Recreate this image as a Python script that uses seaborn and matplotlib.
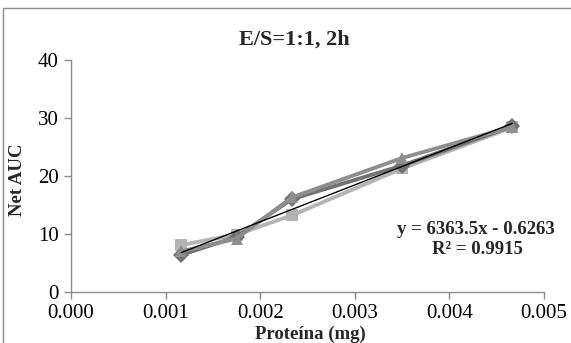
import matplotlib
matplotlib.use("Agg")
import matplotlib.pyplot as plt
import seaborn as sns
import numpy as np
import pandas as pd
from matplotlib.patches import Rectangle

# Protein amount (mg) and net AUC replicates
protein_mg = [0.001167, 0.00175, 0.002333, 0.0035, 0.004667]
rep_diamond = [6.4, 9.5, 16.0, 21.8, 28.6]
rep_square = [8.1, 9.9, 13.2, 21.3, 28.4]
rep_triangle = [7.0, 9.2, 16.3, 23.1, 28.5]

# Linear trendline reported on the chart
slope = 6363.5
intercept = -0.6263
r_squared = 0.9915

title = "E/S=1:1, 2h"
x_label = "Proteína (mg)"
y_label = "Net AUC"
x_ticks = [0.000, 0.001, 0.002, 0.003, 0.004, 0.005]
y_ticks = [0, 10, 20, 30, 40]

sns.set_theme(style="white")
plt.rcParams["font.family"] = ["Liberation Serif", "DejaVu Serif"]

W, H = 571, 343
fig = plt.figure(figsize=(W / 100, H / 100), dpi=100)
ax = fig.add_axes([71 / W, 1 - 292 / H, (544 - 71) / W, (292 - 60) / H])

# Chart-area border
fig.patches.append(Rectangle((3 / W, -0.05), 1.2, 1 - 8 / H + 0.05,
                             transform=fig.transFigure, fill=False,
                             edgecolor="#8c8c8c", linewidth=1.0))

series = [
    (rep_square, "s", "#b4b4b4"),
    (rep_diamond, "D", "#727272"),
    (rep_triangle, "^", "#8e8e8e"),
]
for values, marker, color in series:
    df = pd.DataFrame({"x": protein_mg, "y": values})
    sns.lineplot(data=df, x="x", y="y", ax=ax, color=color, linewidth=2.8,
                 marker=marker, markersize=8, markeredgewidth=0,
                 markerfacecolor=color, sort=False)

# Trendline over the measured range
xt = np.array([protein_mg[0], protein_mg[-1]])
ax.plot(xt, slope * xt + intercept, color="black", linewidth=1.0, zorder=5)

ax.set_xlim(0, 0.005)
ax.set_ylim(0, 40)
ax.set_xticks(x_ticks)
ax.set_xticklabels([f"{t:.3f}" for t in x_ticks])
ax.set_yticks(y_ticks)
ax.set_yticklabels([str(t) for t in y_ticks])
ax.set_xlabel("")
ax.set_ylabel("")

for side in ("top", "right"):
    ax.spines[side].set_visible(False)
for side in ("left", "bottom"):
    ax.spines[side].set_color("#8c8c8c")
    ax.spines[side].set_linewidth(1.0)
ax.tick_params(axis="both", which="major", direction="out", length=5,
               width=1.0, color="#8c8c8c", labelsize=15, labelcolor="black",
               left=True, bottom=True, pad=4)

fig.text(294.5 / W, 1 - 40 / H, title, ha="center", va="center",
         fontsize=16, fontweight="bold")
fig.text(17 / W, 1 - 180 / H, y_label, ha="center", va="center",
         rotation=90, fontsize=13.5, fontweight="bold")
fig.text(310 / W, 1 - 334 / H, x_label, ha="center", va="center",
         fontsize=13.5, fontweight="bold")

ax.text(476 / W, 1 - 229 / H, f"y = {slope}x - {abs(intercept)}",
        transform=fig.transFigure, ha="center", va="center",
        fontsize=13.5, fontweight="bold")
ax.text(477 / W, 1 - 250 / H, f"R² = {r_squared}",
        transform=fig.transFigure, ha="center", va="center",
        fontsize=13.5, fontweight="bold")

fig.savefig("out.png", dpi=100, facecolor="white")
